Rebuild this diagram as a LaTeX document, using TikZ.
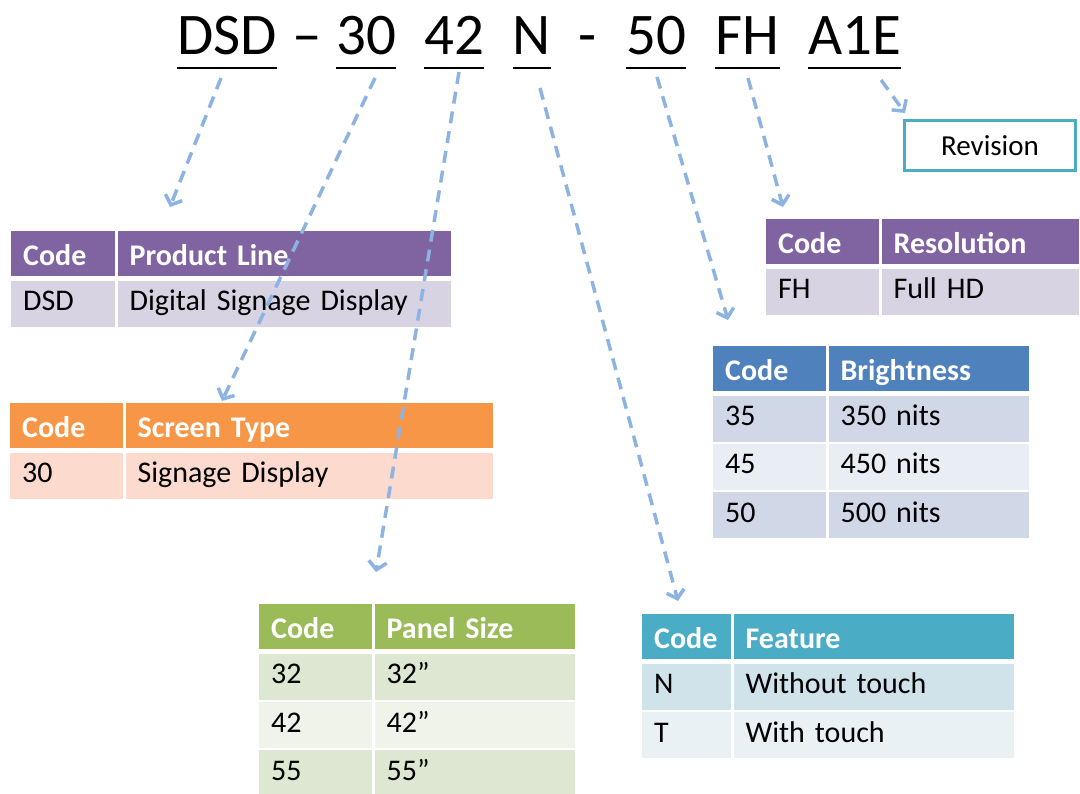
\documentclass[tikz,border=0pt]{standalone}
\usepackage{fontspec}
\setmainfont{Carlito}
\usetikzlibrary{arrows.meta,positioning,calc}

\definecolor{purpleHead}{HTML}{8064A2}
\definecolor{purpleBody}{HTML}{D8D3E2}
\definecolor{orangeHead}{HTML}{F79646}
\definecolor{orangeBody}{HTML}{FCDBCE}
\definecolor{blueHead}{HTML}{4F81BD}
\definecolor{blueDark}{HTML}{D0D8E8}
\definecolor{blueLight}{HTML}{E9EDF4}
\definecolor{greenHead}{HTML}{9BBB59}
\definecolor{greenDark}{HTML}{DEE7D1}
\definecolor{greenLight}{HTML}{EFF3EA}
\definecolor{tealHead}{HTML}{4BACC6}
\definecolor{tealDark}{HTML}{D0E3EA}
\definecolor{tealLight}{HTML}{E9F1F5}
\definecolor{arrowBlue}{HTML}{8DB3E2}

\newcommand{\tabsize}{\fontsize{30}{36}\selectfont}
\newcommand{\partsize}{\fontsize{59}{70}\selectfont}

\begin{document}
\begin{tikzpicture}[
    x=1pt, y=-1pt,
    codepart/.style = {
      font = \partsize,
      inner sep = 0pt,
      anchor = base
    },
    uline/.style = {line width=2.5pt},
    tcell/.style = {
      anchor = north west,
      inner xsep = 12pt,
      inner ysep = 0pt,
      text depth = 0pt,
      align = left,
      text width = #1,
      font = \tabsize
    },
    thead/.style = {tcell=#1, minimum height=45pt, text height=23pt, text=white, font=\tabsize\bfseries},
    trow/.style = {tcell=#1, minimum height=46pt, text height=14pt},
    conn/.style = {
      arrowBlue,
      line width = 3.5pt,
      dash pattern = on 12pt off 8pt,
      -{Straight Barb[length=8pt,width=18pt]}
    }
  ]
  \useasboundingbox (0,0) rectangle (1080,794);

  % model number
  \node[codepart] (dsd)   at (227,55)   {DSD};
  \node[codepart] (dash1) at (307,55)   {--};
  \node[codepart] (c30)   at (366,55)   {30};
  \node[codepart] (c42)   at (454,55)   {42};
  \node[codepart] (cN)    at (532,55)   {N};
  \node[codepart] (dash2) at (588,55)   {-};
  \node[codepart] (c50)   at (656,55)   {50};
  \node[codepart] (cFH)   at (747.5,55) {FH};
  \node[codepart] (cA1E)  at (854.5,55) {A1E};
  \foreach \p in {dsd,c30,c42,cN,c50,cFH,cA1E}
    \draw[uline] ([yshift=-13pt]\p.base west) -- ([yshift=-13pt]\p.base east);

  % product line
  \node[thead=80pt, fill=purpleHead] (pl-h1) at (11,231) {Code};
  \node[thead=309pt, fill=purpleHead, right=2pt of pl-h1] (pl-h2) {Product Line};
  \node[trow=80pt, fill=purpleBody, below=4pt of pl-h1] (pl-c1) {DSD};
  \node[trow=309pt, fill=purpleBody, below=4pt of pl-h2] (pl-v1) {Digital Signage Display};

  % screen type
  \node[thead=89pt, fill=orangeHead] (st-h1) at (10,403) {Code};
  \node[thead=343pt, fill=orangeHead, right=2pt of st-h1] (st-h2) {Screen Type};
  \node[trow=89pt, fill=orangeBody, below=4pt of st-h1] (st-c1) {30};
  \node[trow=343pt, fill=orangeBody, below=4pt of st-h2] (st-v1) {Signage Display};

  % panel size
  \node[thead=89pt, fill=greenHead] (ps-h1) at (259,604) {Code};
  \node[thead=176pt, fill=greenHead, right=2pt of ps-h1] (ps-h2) {Panel Size};
  \node[trow=89pt, fill=greenDark, below=4pt of ps-h1] (ps-c1) {32};
  \node[trow=176pt, fill=greenDark, below=4pt of ps-h2] (ps-v1) {32”};
  \node[trow=89pt, fill=greenLight, below=2pt of ps-c1] (ps-c2) {42};
  \node[trow=176pt, fill=greenLight, below=2pt of ps-v1] (ps-v2) {42”};
  \node[trow=89pt, fill=greenDark, below=2pt of ps-c2] (ps-c3) {55};
  \node[trow=176pt, fill=greenDark, below=2pt of ps-v2] (ps-v3) {55”};

  % feature
  \node[thead=65pt, fill=tealHead] (ft-h1) at (642,614) {Code};
  \node[thead=256pt, fill=tealHead, right=2pt of ft-h1] (ft-h2) {Feature};
  \node[trow=65pt, fill=tealDark, below=4pt of ft-h1] (ft-c1) {N};
  \node[trow=256pt, fill=tealDark, below=4pt of ft-h2] (ft-v1) {Without touch};
  \node[trow=65pt, fill=tealLight, below=2pt of ft-c1] (ft-c2) {T};
  \node[trow=256pt, fill=tealLight, below=2pt of ft-v1] (ft-v2) {With touch};

  % brightness
  \node[thead=89pt, fill=blueHead] (br-h1) at (713,346) {Code};
  \node[thead=176pt, fill=blueHead, right=2pt of br-h1] (br-h2) {Brightness};
  \node[trow=89pt, fill=blueDark, below=4pt of br-h1] (br-c1) {35};
  \node[trow=176pt, fill=blueDark, below=4pt of br-h2] (br-v1) {350 nits};
  \node[trow=89pt, fill=blueLight, below=2pt of br-c1] (br-c2) {45};
  \node[trow=176pt, fill=blueLight, below=2pt of br-v1] (br-v2) {450 nits};
  \node[trow=89pt, fill=blueDark, below=2pt of br-c2] (br-c3) {50};
  \node[trow=176pt, fill=blueDark, below=2pt of br-v2] (br-v3) {500 nits};

  % resolution
  \node[thead=89pt, fill=purpleHead] (rs-h1) at (766,219) {Code};
  \node[thead=173pt, fill=purpleHead, right=2pt of rs-h1] (rs-h2) {Resolution};
  \node[trow=89pt, fill=purpleBody, below=4pt of rs-h1] (rs-c1) {FH};
  \node[trow=173pt, fill=purpleBody, below=4pt of rs-h2] (rs-v1) {Full HD};

  % revision
  \node[draw=tealHead, line width=3pt, minimum width=171pt, minimum height=50pt,
    inner sep=0pt, font=\fontsize{29}{34}\selectfont] (rev) at (990,145.5) {Revision};

  % arrows
  \coordinate (t-pl) at (170,207);
  \coordinate (t-st) at (222,401);
  \coordinate (t-ps) at (376,572);
  \coordinate (t-ft) at (678,601);
  \coordinate (t-br) at (728,320);
  \coordinate (t-rs) at (783,207);
  \coordinate (t-rev) at (905,113);

  \draw[conn] ($(dsd.base)+(-6,23)$) -- (t-pl);
  \draw[conn] ($(c30.base)+(9,23)$) -- (t-st);
  \draw[conn] ($(c42.base)+(5,17)$) -- (t-ps);
  \draw[conn] ($(cN.base)+(8,33)$) -- (t-ft);
  \draw[conn] ($(c50.base)+(1,22)$) -- (t-br);
  \draw[conn] ($(cFH.base)+(0.5,23)$) -- (t-rs);
  \draw[conn] ($(cA1E.base east)+(-20,25)$) -- (t-rev);
\end{tikzpicture}
\end{document}
